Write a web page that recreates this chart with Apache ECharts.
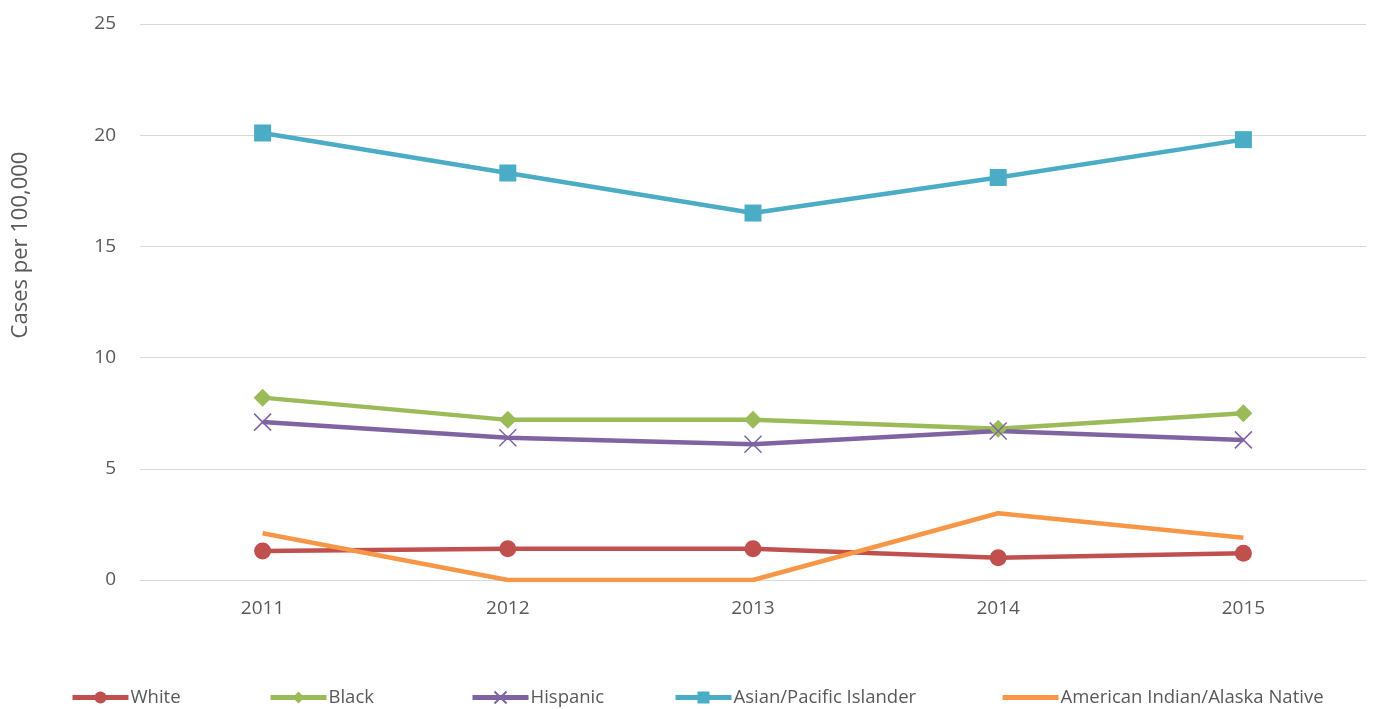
<!DOCTYPE html>
<html>
<head>
<meta charset="utf-8">
<script src="https://cdn.jsdelivr.net/npm/echarts@6/dist/echarts.min.js"></script>
<style>
html, body { margin: 0; padding: 0; background: #fff; }
#chart { width: 1376px; height: 709px; }
</style>
</head>
<body>
<div id="chart"></div>
<script>
var years = ['2011', '2012', '2013', '2014', '2015'];
var white = [1.3, 1.4, 1.4, 1.0, 1.2];
var black = [8.2, 7.2, 7.2, 6.8, 7.5];
var hispanic = [7.1, 6.4, 6.1, 6.7, 6.3];
var asian = [20.1, 18.3, 16.5, 18.1, 19.8];
var aian = [2.1, 0, 0, 3.0, 1.9];
var yTicks = [0, 5, 10, 15, 20, 25];

var labelColor = '#595959';
var font = 'Open Sans';

var mychart = echarts.init(document.getElementById('chart'));

function mkSeries(name, data, color, symbol, size, extra) {
    var s = {
        name: name,
        type: 'line',
        data: data,
        symbol: symbol,
        symbolSize: size,
        showSymbol: symbol !== 'none',
        lineStyle: { color: color, width: 4.5 },
        itemStyle: { color: color },
        emphasis: { disabled: true },
        z: 3
    };
    if (extra) {
        for (var k in extra) s[k] = extra[k];
    }
    return s;
}

function mkLegend(name, left, hideIcon) {
    var l = {
        data: [name],
        left: left,
        top: 688,
        itemWidth: 56,
        itemHeight: 15,
        itemGap: 0,
        padding: 0,
        lineStyle: { width: 5 },
        textStyle: { color: labelColor, fontSize: 18.5, fontFamily: font, padding: [0, 0, 0, -3] }
    };
    if (hideIcon) l.itemStyle = { opacity: 0 };
    return l;
}

var option = {
    animation: false,
    backgroundColor: '#ffffff',
    grid: { left: 140, right: 10, top: 24, bottom: 129, containLabel: false },
    legend: [
        mkLegend('White', 70),
        mkLegend('Black', 268),
        mkLegend('Hispanic', 470),
        mkLegend('Asian/Pacific Islander', 673),
        mkLegend('American Indian/Alaska Native', 1000, true)
    ],
    xAxis: {
        type: 'category',
        data: years,
        boundaryGap: true,
        axisLine: { show: true, lineStyle: { color: '#d9d9d9', width: 1 } },
        axisTick: { show: false },
        axisLabel: { color: labelColor, fontSize: 19, fontFamily: font, margin: 19 }
    },
    yAxis: {
        type: 'value',
        min: yTicks[0],
        max: yTicks[yTicks.length - 1],
        interval: 5,
        axisLine: { show: false },
        axisTick: { show: false },
        splitLine: { lineStyle: { color: '#d9d9d9', width: 1 } },
        axisLabel: { color: labelColor, fontSize: 19, fontFamily: font, margin: 24 }
    },
    graphic: [{
        type: 'text',
        x: 10,
        y: 245,
        rotation: Math.PI / 2,
        style: {
            text: 'Cases per 100,000',
            fill: labelColor,
            font: '22px "' + font + '"',
            align: 'center',
            verticalAlign: 'top'
        }
    }],
    series: [
        mkSeries('White', white, '#C0504D', 'circle', 17),
        mkSeries('Black', black, '#9BBB59', 'diamond', 18),
        mkSeries('Hispanic', hispanic, '#8064A2', 'path://M0,0L10,10M10,0L0,10', 17, {
            itemStyle: { color: '#8064A2', borderColor: '#8064A2', borderWidth: 1.5 }
        }),
        mkSeries('Asian/Pacific Islander', asian, '#4BACC6', 'rect', 17),
        mkSeries('American Indian/Alaska Native', aian, '#F79646', 'none', 0)
    ]
};
mychart.setOption(option);
</script>
</body>
</html>
